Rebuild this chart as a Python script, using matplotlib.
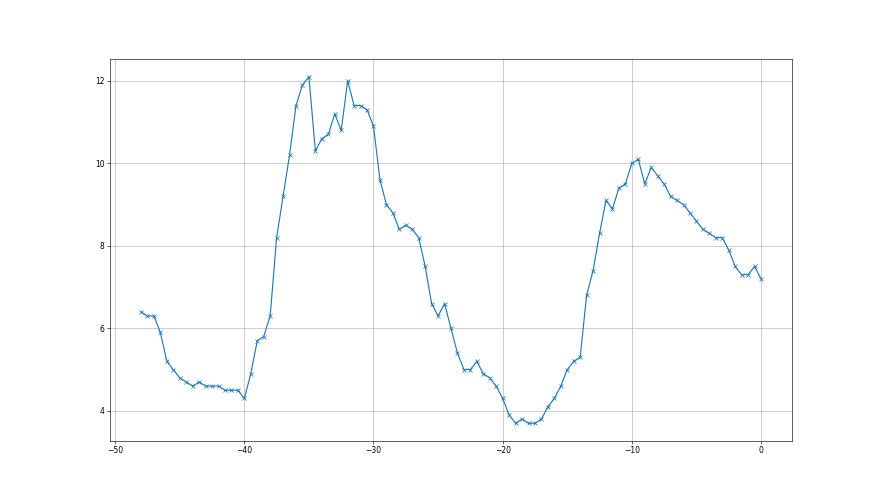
import matplotlib

matplotlib.use("Agg")
import matplotlib.pyplot as plt

# x positions (every 0.5 from -48 to 0)
xs = [
    -48.0, -47.5, -47.0, -46.5, -46.0, -45.5, -45.0, -44.5, -44.0, -43.5,
    -43.0, -42.5, -42.0, -41.5, -41.0, -40.5, -40.0, -39.5, -39.0, -38.5,
    -38.0, -37.5, -37.0, -36.5, -36.0, -35.5, -35.0, -34.5, -34.0, -33.5,
    -33.0, -32.5, -32.0, -31.5, -31.0, -30.5, -30.0, -29.5, -29.0, -28.5,
    -28.0, -27.5, -27.0, -26.5, -26.0, -25.5, -25.0, -24.5, -24.0, -23.5,
    -23.0, -22.5, -22.0, -21.5, -21.0, -20.5, -20.0, -19.5, -19.0, -18.5,
    -18.0, -17.5, -17.0, -16.5, -16.0, -15.5, -15.0, -14.5, -14.0, -13.5,
    -13.0, -12.5, -12.0, -11.5, -11.0, -10.5, -10.0, -9.5, -9.0, -8.5,
    -8.0, -7.5, -7.0, -6.5, -6.0, -5.5, -5.0, -4.5, -4.0, -3.5,
    -3.0, -2.5, -2.0, -1.5, -1.0, -0.5, 0.0,
]

ys = [
    6.4, 6.3, 6.3, 5.9, 5.2, 5.0, 4.8, 4.7, 4.6, 4.7,
    4.6, 4.6, 4.6, 4.5, 4.5, 4.5, 4.3, 4.9, 5.7, 5.8,
    6.3, 8.2, 9.2, 10.2, 11.4, 11.9, 12.1, 10.3, 10.6, 10.7,
    11.2, 10.8, 12.0, 11.4, 11.4, 11.3, 10.9, 9.6, 9.0, 8.8,
    8.4, 8.5, 8.4, 8.2, 7.5, 6.6, 6.3, 6.6, 6.0, 5.4,
    5.0, 5.0, 5.2, 4.9, 4.8, 4.6, 4.3, 3.9, 3.7, 3.8,
    3.7, 3.7, 3.8, 4.1, 4.3, 4.6, 5.0, 5.2, 5.3, 6.8,
    7.4, 8.3, 9.1, 8.9, 9.4, 9.5, 10.0, 10.1, 9.5, 9.9,
    9.7, 9.5, 9.2, 9.1, 9.0, 8.8, 8.6, 8.4, 8.3, 8.2,
    8.2, 7.9, 7.5, 7.3, 7.3, 7.5, 7.2,
]

fig, ax = plt.subplots(figsize=(16, 9), dpi=55)
ax.plot(xs, ys, marker="x", color="C0")
ax.grid(True)
fig.savefig("out.png", dpi=55)
